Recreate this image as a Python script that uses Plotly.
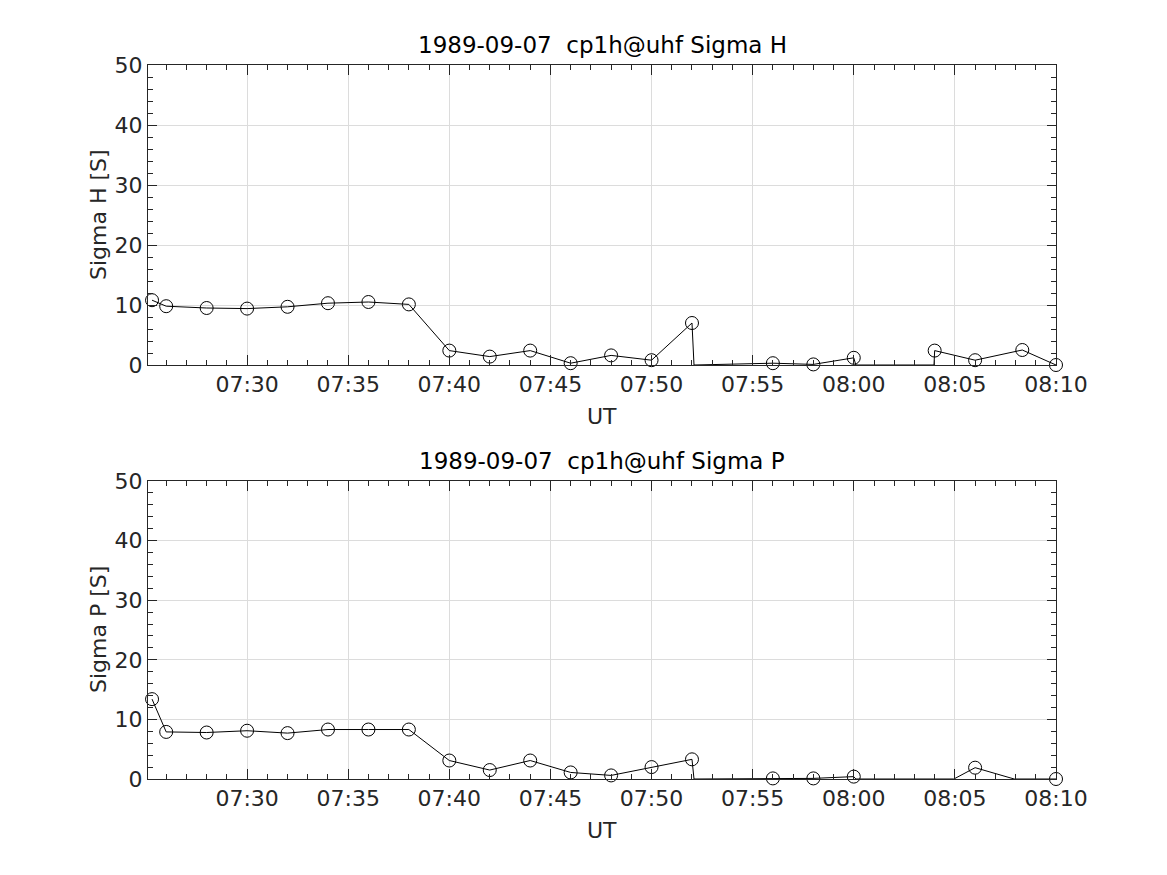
import plotly.graph_objects as go

DATE = "1989-09-07 "

# ---- Sigma H (top panel) ----
h_marker_times = ["07:25:18", "07:26:00", "07:28:00", "07:30:00", "07:32:00", "07:34:00",
                  "07:36:00", "07:38:00", "07:40:00", "07:42:00", "07:44:00", "07:46:00",
                  "07:48:00", "07:50:00", "07:52:00", "07:56:00", "07:58:00", "08:00:00",
                  "08:04:00", "08:06:00", "08:08:20", "08:10:00"]
h_marker_vals = [10.8, 9.8, 9.5, 9.4, 9.7, 10.3, 10.5, 10.1, 2.4, 1.4, 2.4, 0.3,
                 1.6, 0.8, 7.0, 0.3, 0.1, 1.2, 2.4, 0.8, 2.5, 0.0]
h_line_times = ["07:25:18", "07:26:00", "07:28:00", "07:30:00", "07:32:00", "07:34:00",
                "07:36:00", "07:38:00", "07:40:00", "07:42:00", "07:44:00", "07:46:00",
                "07:48:00", "07:50:00", "07:52:00", "07:52:06", "07:56:00", "07:58:00",
                "08:00:00", "08:00:06", "08:03:58", "08:04:00", "08:06:00", "08:08:20",
                "08:10:00"]
h_line_vals = [10.8, 9.8, 9.5, 9.4, 9.7, 10.3, 10.5, 10.1, 2.4, 1.4, 2.4, 0.3,
               1.6, 0.8, 7.0, 0.0, 0.3, 0.1, 1.2, 0.0, 0.0, 2.4, 0.8, 2.5, 0.0]

# ---- Sigma P (bottom panel) ----
p_marker_times = ["07:25:18", "07:26:00", "07:28:00", "07:30:00", "07:32:00", "07:34:00",
                  "07:36:00", "07:38:00", "07:40:00", "07:42:00", "07:44:00", "07:46:00",
                  "07:48:00", "07:50:00", "07:52:00", "07:56:00", "07:58:00", "08:00:00",
                  "08:06:00", "08:10:00"]
p_marker_vals = [13.4, 7.9, 7.8, 8.1, 7.7, 8.3, 8.3, 8.3, 3.1, 1.5, 3.1, 1.1,
                 0.6, 2.0, 3.3, 0.1, 0.1, 0.4, 1.9, 0.0]
p_line_times = ["07:25:18", "07:26:00", "07:28:00", "07:30:00", "07:32:00", "07:34:00",
                "07:36:00", "07:38:00", "07:40:00", "07:42:00", "07:44:00", "07:46:00",
                "07:48:00", "07:50:00", "07:52:00", "07:52:06", "07:56:00", "07:58:00",
                "08:00:00", "08:00:06", "08:04:57", "08:06:00", "08:07:56", "08:10:00"]
p_line_vals = [13.4, 7.9, 7.8, 8.1, 7.7, 8.3, 8.3, 8.3, 3.1, 1.5, 3.1, 1.1,
               0.6, 2.0, 3.3, 0.0, 0.1, 0.1, 0.4, 0.0, 0.0, 1.9, 0.0, 0.0]

titles = ["1989-09-07  cp1h@uhf Sigma H", "1989-09-07  cp1h@uhf Sigma P"]
ylabels = ["Sigma H [S]", "Sigma P [S]"]
xlabel = "UT"
y_range = [0, 50]
x_range = ["07:25:06", "08:10:00"]

FONT = "DejaVu Sans"
AX_COLOR = "#262626"
OFF = 8                      # default page body margin
W, H = 1167 - OFF, 875 - OFF  # figure size so that it fits the window

fig = go.Figure()

panels = [
    (h_line_times, h_line_vals, h_marker_times, h_marker_vals, "x", "y"),
    (p_line_times, p_line_vals, p_marker_times, p_marker_vals, "x2", "y2"),
]
for lt, lv, mt, mv, xa, ya in panels:
    fig.add_trace(go.Scatter(x=[DATE + t for t in lt], y=lv, mode="lines",
                             line=dict(color="black", width=1), xaxis=xa, yaxis=ya,
                             showlegend=False, cliponaxis=False, hoverinfo="skip"))
    fig.add_trace(go.Scatter(x=[DATE + t for t in mt], y=mv, mode="markers",
                             marker=dict(symbol="circle-open", size=13,
                                         line=dict(color="black", width=1), color="black"),
                             xaxis=xa, yaxis=ya, showlegend=False, cliponaxis=False))

# window-pixel geometry of the plot areas
x0px, x1px = 148, 1056
panels_px = [(65, 365), (481, 779)]

def px_x(px):
    return (px - OFF) / W

def px_y(py):
    return 1 - (py - OFF) / H

def xaxis_cfg(anchor):
    return dict(
        type="date", range=[DATE + x_range[0], DATE + x_range[1]],
        domain=[px_x(x0px), px_x(x1px)], anchor=anchor, automargin=False,
        tickformat="%H:%M", dtick=300000, tick0=DATE + "07:00:00",
        ticks="inside", ticklen=10, tickwidth=1, tickcolor=AX_COLOR,
        minor=dict(dtick=60000, ticks="inside", ticklen=5, tickcolor=AX_COLOR, showgrid=False),
        showline=True, linecolor=AX_COLOR, linewidth=1, mirror="ticks",
        showgrid=True, gridcolor="#dcdcdc", gridwidth=1, zeroline=False,
        tickfont=dict(family=FONT, size=22, color=AX_COLOR),
    )

def yaxis_cfg(anchor, top, bot):
    return dict(
        range=y_range, domain=[px_y(bot), px_y(top)], anchor=anchor, automargin=False,
        dtick=10, tick0=0,
        ticks="inside", ticklen=9, tickwidth=1, tickcolor=AX_COLOR,
        minor=dict(dtick=2, ticks="inside", ticklen=5, tickcolor=AX_COLOR, showgrid=False),
        showline=True, linecolor=AX_COLOR, linewidth=1, mirror="ticks",
        showgrid=True, gridcolor="#dcdcdc", gridwidth=1, zeroline=False,
        tickfont=dict(family=FONT, size=22, color=AX_COLOR),
    )

annotations = []
for i, (top, bot) in enumerate(panels_px):
    cx = px_x((x0px + x1px) / 2)
    annotations.append(dict(text=titles[i], x=cx, y=px_y(top - 20), xref="paper", yref="paper",
                            showarrow=False, font=dict(family=FONT, size=23, color="black"),
                            xanchor="center", yanchor="middle"))
    annotations.append(dict(text=xlabel, x=cx, y=px_y(bot + 51), xref="paper", yref="paper",
                            showarrow=False, font=dict(family=FONT, size=22, color=AX_COLOR),
                            xanchor="center", yanchor="middle"))
    annotations.append(dict(text=ylabels[i], x=px_x(98), y=px_y((top + bot) / 2), xref="paper",
                            yref="paper", showarrow=False, textangle=-90,
                            font=dict(family=FONT, size=22, color=AX_COLOR),
                            xanchor="center", yanchor="middle"))

fig.update_layout(
    width=W, height=H, autosize=False,
    margin=dict(l=0, r=0, t=0, b=0, pad=0, autoexpand=False),
    paper_bgcolor="white", plot_bgcolor="white",
    xaxis=xaxis_cfg("y"), yaxis=yaxis_cfg("x", *panels_px[0]),
    xaxis2=xaxis_cfg("y2"), yaxis2=yaxis_cfg("x2", *panels_px[1]),
    annotations=annotations,
    font=dict(family=FONT),
)

fig.write_html("out.html")
